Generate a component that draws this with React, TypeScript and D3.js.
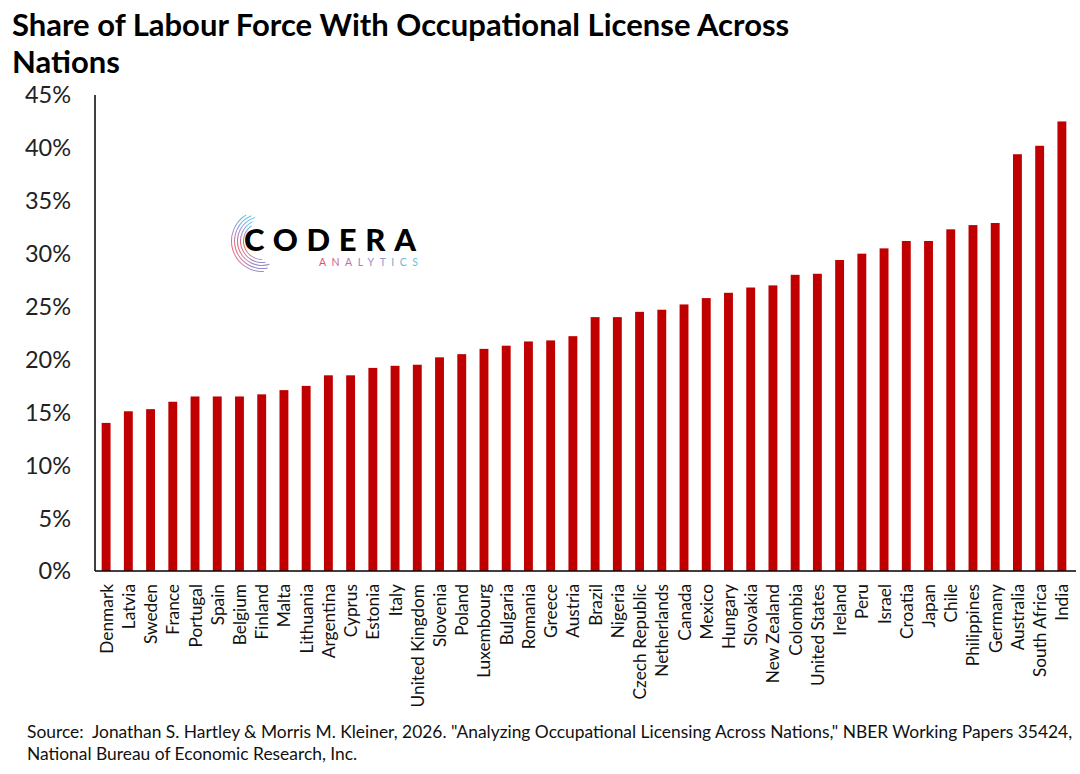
import React from "react";
import * as d3 from "d3";

const countries = ["Denmark","Latvia","Sweden","France","Portugal","Spain","Belgium","Finland","Malta","Lithuania","Argentina","Cyprus","Estonia","Italy","United Kingdom","Slovenia","Poland","Luxembourg","Bulgaria","Romania","Greece","Austria","Brazil","Nigeria","Czech Republic","Netherlands","Canada","Mexico","Hungary","Slovakia","New Zealand","Colombia","United States","Ireland","Peru","Israel","Croatia","Japan","Chile","Philippines","Germany","Australia","South Africa","India"];
const shares = [14.0,15.1,15.3,16.0,16.5,16.5,16.5,16.7,17.1,17.5,18.5,18.5,19.2,19.4,19.5,20.2,20.5,21.0,21.3,21.7,21.8,22.2,24.0,24.0,24.5,24.7,25.2,25.8,26.3,26.8,27.0,28.0,28.1,29.4,30.0,30.5,31.2,31.2,32.3,32.7,32.9,39.4,40.2,42.5];
const yTicks = [0,5,10,15,20,25,30,35,40,45];

const W = 1080, H = 774;
const left = 95, right = 1073, top = 95, bottom = 571;
const FONT = "Lato, 'Open Sans', sans-serif";

export default function App() {
  const x = d3.scaleBand<string>().domain(countries).range([left, right]).paddingInner(0.6).paddingOuter(0.3);
  const y = d3.scaleLinear().domain([0, 45]).range([bottom, top]);

  const cx = 262, cy = 241;
  const arcs = [
    { r: 30, s: 0.55, e: 2.6 },
    { r: 27, s: 0.4, e: 2.75 },
    { r: 24, s: 0.3, e: 2.85 },
    { r: 21, s: 0.45, e: 2.7 },
    { r: 18, s: 0.6, e: 2.55 },
  ];
  const arcGen = d3.arc();

  return (
    <svg width={W} height={H} style={{ display: "block", position: "absolute", left: 0, top: 0 }} fontFamily={FONT}>
      <defs>
        <linearGradient id="lg" x1="0" y1="0" x2="0" y2="1">
          <stop offset="0" stopColor="#4fc3e0" />
          <stop offset="0.3" stopColor="#9b7fd0" />
          <stop offset="0.55" stopColor="#e0505f" />
          <stop offset="0.8" stopColor="#d07090" />
          <stop offset="1" stopColor="#7f80d0" />
        </linearGradient>
        <linearGradient id="tg" x1="0" y1="0" x2="1" y2="0">
          <stop offset="0" stopColor="#e0506a" />
          <stop offset="0.5" stopColor="#a08ac8" />
          <stop offset="1" stopColor="#5cc8e0" />
        </linearGradient>
      </defs>
      <rect width={W} height={H} fill="#fff" />
      <text x={12} y={36} fontSize={31} fontWeight={700} fill="#000">Share of Labour Force With Occupational License Across</text>
      <text x={12} y={73} fontSize={31} fontWeight={700} fill="#000">Nations</text>

      {yTicks.map(t => (
        <text key={t} x={71} y={y(t)} dy="0.36em" textAnchor="end" fontSize={23.5} fill="#222">{t}%</text>
      ))}

      {countries.map((c, i) => (
        <rect key={c} x={x(c)} y={y(shares[i])} width={x.bandwidth()} height={y(0) - y(shares[i])} fill="#C00000" />
      ))}

      <line x1={left} x2={left} y1={top} y2={bottom} stroke="#000" strokeWidth={1.5} />
      <line x1={left} x2={1076} y1={bottom} y2={bottom} stroke="#000" strokeWidth={1.5} />

      {countries.map(c => {
        const cxl = (x(c) as number) + x.bandwidth() / 2;
        return (
          <text key={c} transform={`translate(${cxl + 6.5},584) rotate(-90)`} textAnchor="end" fontSize={17.3} fill="#111">{c}</text>
        );
      })}

      <g>
        {arcs.map((a, i) => (
          <path key={i} transform={`translate(${cx},${cy})`}
            d={arcGen({ innerRadius: a.r, outerRadius: a.r + 1, startAngle: Math.PI * 2 - a.e - 0.6 + Math.PI - Math.PI, endAngle: Math.PI * 2 - a.s } as any) || ""}
            fill="url(#lg)" opacity={0.9} />
        ))}
        <text x={244} y={251} fontSize={31} fontWeight={900} fill="#000" textLength={172} lengthAdjust="spacing">CODERA</text>
        <text x={319} y={266} fontSize={10.5} fill="url(#tg)" textLength={99} lengthAdjust="spacing">ANALYTICS</text>
      </g>

      <text x={27} y={738} fontSize={17.4} fill="#111" xmlSpace="preserve">Source:  Jonathan S. Hartley &amp; Morris M. Kleiner, 2026. "Analyzing Occupational Licensing Across Nations," NBER Working Papers 35424,</text>
      <text x={27} y={760} fontSize={17.4} fill="#111">National Bureau of Economic Research, Inc.</text>
    </svg>
  );
}
